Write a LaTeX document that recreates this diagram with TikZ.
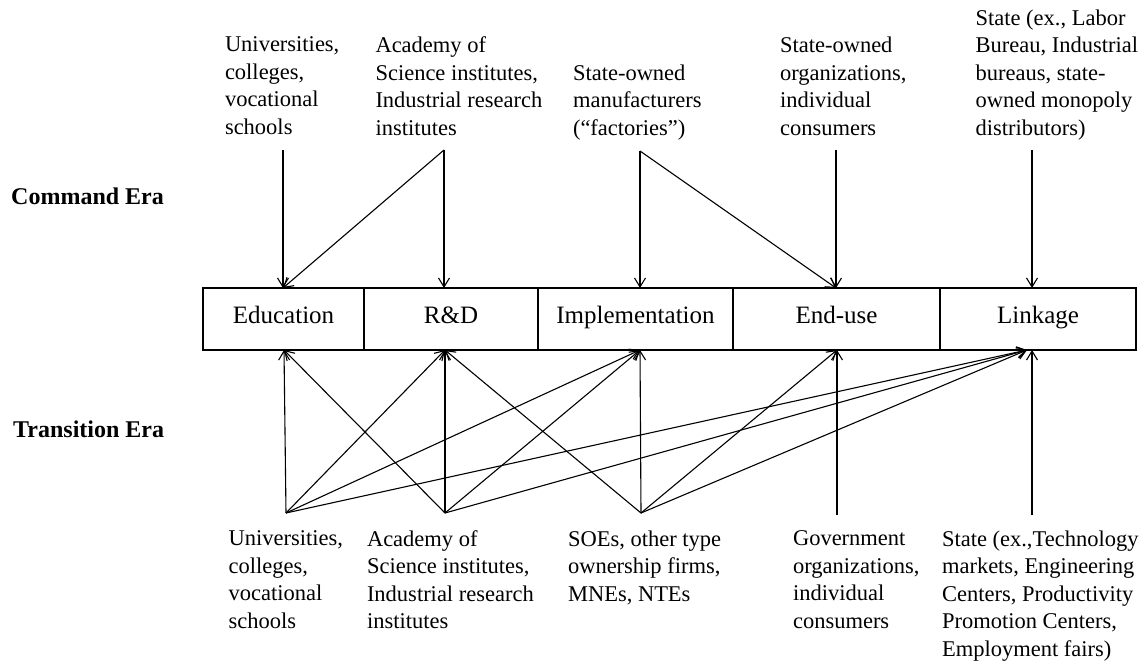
\documentclass[tikz,border=0pt]{standalone}
\usepackage{fontspec}
\setmainfont{Liberation Serif}
\usetikzlibrary{arrows.meta}
\begin{document}
\begin{tikzpicture}[x=1pt,y=-1pt,
  txt/.style={anchor=north west, inner sep=0pt, outer sep=0pt, align=left, font=\fontsize{22.5}{27.5}\selectfont},
  era/.style={anchor=base west, inner sep=0pt, font=\fontsize{24}{28}\selectfont\bfseries},
  cell/.style={draw, line width=1.3pt, inner sep=0pt, outer sep=0pt, minimum height=62pt, text height=15pt, text depth=6pt, font=\fontsize{25}{30}\selectfont},
  conn/.style={line width=1.1pt, -{Straight Barb[length=9pt,width=11pt]}},
  plain/.style={line width=1.1pt}
]
\useasboundingbox (0,0) rectangle (1147,668);

% era labels
\node[era] (cmd) at (11,205) {Command Era};
\node[era] (trn) at (13,437) {Transition Era};

% central row of cells
\node[cell, minimum width=161pt] (edu) at (283.5,319) {Education};
\node[cell, minimum width=174pt] (rd)  at (451,319)   {R\&D};
\node[cell, minimum width=195pt] (imp) at (635.5,319) {Implementation};
\node[cell, minimum width=207pt] (end) at (836.5,319) {End-use};
\node[cell, minimum width=196pt] (lin) at (1038,319)  {Linkage};

% command era actors
\node[txt] (cU) at (225,37.1)   {Universities,\\colleges,\\vocational\\schools};
\node[txt] (cA) at (375.5,37.1) {Academy of\\Science institutes,\\Industrial research\\institutes};
\node[txt] (cM) at (573,64.6)   {State-owned\\manufacturers\\(“factories”)};
\node[txt] (cO) at (780,37.1)   {State-owned\\organizations,\\individual\\consumers};
\node[txt] (cS) at (975.6,9.6)  {State (ex., Labor\\Bureau, Industrial\\bureaus, state-\\owned monopoly\\distributors)};

% transition era actors
\node[txt] (bU) at (228.6,530.6) {Universities,\\colleges,\\vocational\\schools};
\node[txt] (bA) at (367,530.6)   {Academy of\\Science institutes,\\Industrial research\\institutes};
\node[txt] (bO) at (568,530.6)   {SOEs, other type\\ownership firms,\\MNEs, NTEs};
\node[txt] (bG) at (793,530.6)   {Government\\organizations,\\individual\\consumers};
\node[txt] (bS) at (942,530.6)   {State (ex.,Technology\\markets, Engineering\\Centers, Productivity\\Promotion Centers,\\Employment fairs)};

% connector end points
\coordinate (tU) at (283,150);
\coordinate (tA) at (444,150);
\coordinate (tM) at (640,151);
\coordinate (tO) at (836,150);
\coordinate (tS) at (1032,150);

\coordinate (eduT) at (283,288);
\coordinate (rdT)  at (444,288);
\coordinate (impT) at (640,288);
\coordinate (endT) at (836,288);
\coordinate (linT) at (1032,288);

\coordinate (eduB)  at (284,350);
\coordinate (rdB)   at (445,350);
\coordinate (impB)  at (640,350);
\coordinate (endB)  at (837,350);
\coordinate (linB)  at (1027,350);
\coordinate (linBv) at (1032,350);

\coordinate (vU) at (286,513);
\coordinate (vA) at (445,513);
\coordinate (vO) at (641,513);
\coordinate (vG) at (837,515);
\coordinate (vS) at (1032,515);

% command era connectors
\draw[conn] (tU) -- (eduT);
\draw[conn] (tA) -- (eduT);
\draw[conn] (tA) -- (rdT);
\draw[conn] (tM) -- (impT);
\draw[conn] (tM) -- (endT);
\draw[conn] (tO) -- (endT);
\draw[conn] (tS) -- (linT);

% transition era connectors
\draw[conn] (vU) -- (eduB);
\draw[conn] (vU) -- (rdB);
\draw[conn] (vU) -- (impB);
\draw[conn] (vU) -- (linB);
\draw[conn] (vA) -- (eduB);
\draw[conn] (vA) -- (rdB);
\draw[conn] (vA) -- (impB);
\draw[conn] (vA) -- (linB);
\draw[conn] (vO) -- (rdB);
\draw[conn] (vO) -- (impB);
\draw[conn] (vO) -- (endB);
\draw[conn] (vO) -- (linB);
\draw[conn] (vG) -- (endB);
\draw[conn] (vS) -- (linBv);
\end{tikzpicture}
\end{document}
